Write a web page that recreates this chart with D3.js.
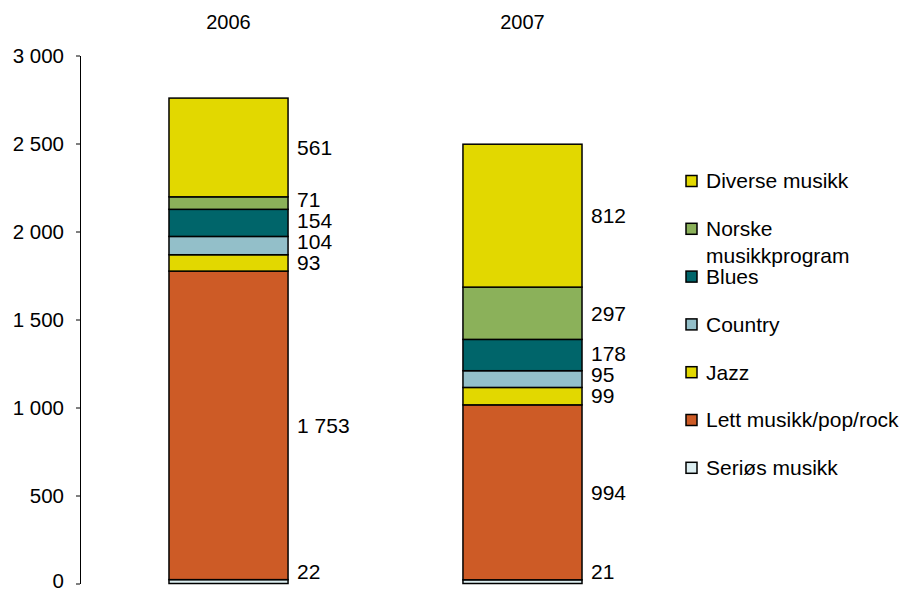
<!DOCTYPE html>
<html>
<head>
<meta charset="utf-8">
<script src="https://cdn.jsdelivr.net/npm/d3@7/dist/d3.min.js"></script>
<style>
  body { margin: 0; background: #fff; }
  svg { display: block; font-family: "Liberation Sans", Arial, sans-serif; }
</style>
</head>
<body>
<svg id="chart" width="906" height="590"></svg>
<script>
// ---- data ----
const categories = ["2006", "2007"];
const seriesNames = ["Seriøs musikk", "Lett musikk/pop/rock", "Jazz", "Country", "Blues", "Norske musikkprogram", "Diverse musikk"];
const seriosMusikk = [22, 21];
const lettMusikk = [1753, 994];
const jazz = [93, 99];
const country = [104, 95];
const blues = [154, 178];
const norskeMusikkprogram = [71, 297];
const diverseMusikk = [561, 812];
const yTicks = [0, 500, 1000, 1500, 2000, 2500, 3000];
const colors = ["#DCEEF1", "#CD5B26", "#E2D800", "#93BFC9", "#00656A", "#8BB15A", "#E2D800"];

const seriesValues = [seriosMusikk, lettMusikk, jazz, country, blues, norskeMusikkprogram, diverseMusikk];

// table for stacking
const table = categories.map((c, i) => {
  const row = { cat: c };
  seriesNames.forEach((s, j) => row[s] = seriesValues[j][i]);
  return row;
});

const svg = d3.select("#chart");
const fmt = v => d3.format(",")(v).replace(/,/g, " ");

const y = d3.scaleLinear().domain([0, 3000]).range([583.5, 55.5]);
const x = d3.scaleBand().domain(categories).range([81.5, 669.5]).paddingInner(0.595).paddingOuter(0.2976);

// axis
const yAxis = d3.axisLeft(y).tickValues(yTicks).tickSize(4).tickSizeOuter(0).tickPadding(12).tickFormat(fmt);
const gy = svg.append("g").attr("transform", "translate(80,0)").call(yAxis);
gy.select(".domain").attr("stroke", "#000").attr("stroke-width", 1);
gy.selectAll(".tick line").attr("stroke", "#000");
gy.selectAll(".tick text").attr("font-size", 20.5).attr("fill", "#000").attr("font-family", "Liberation Sans, Arial, sans-serif")
  .attr("y", d => d === 0 ? -3 : 0);

// stacks
const stack = d3.stack().keys(seriesNames);
const stacked = stack(table);

const layers = svg.append("g").selectAll("g").data(stacked).join("g")
  .attr("fill", (d, i) => colors[i]);
layers.selectAll("rect").data(d => d).join("rect")
  .attr("x", d => x(d.data.cat))
  .attr("width", x.bandwidth())
  .attr("y", d => y(d[1]))
  .attr("height", d => y(d[0]) - y(d[1]))
  .attr("stroke", "#000")
  .attr("stroke-width", 1.5);

// value labels with simple de-overlap
categories.forEach((c, ci) => {
  const labels = stacked.map((layer, li) => {
    const d = layer[ci];
    return { v: d[1] - d[0], yc: (y(d[0]) + y(d[1])) / 2 };
  });
  labels[0].yc = Math.min(labels[0].yc, 572);
  for (let i = 1; i < labels.length; i++) {
    if (labels[i - 1].yc - labels[i].yc < 21) labels[i].yc = labels[i - 1].yc - 21;
  }
  svg.append("g").selectAll("text").data(labels).join("text")
    .attr("x", x(c) + x.bandwidth() + 9)
    .attr("y", d => d.yc)
    .attr("dy", "0.35em")
    .attr("font-size", 21)
    .attr("fill", "#000")
    .text(d => fmt(d.v));
});

// category labels on top
svg.append("g").selectAll("text").data(categories).join("text")
  .attr("x", d => x(d) + x.bandwidth() / 2)
  .attr("y", 29)
  .attr("text-anchor", "middle")
  .attr("font-size", 20)
  .attr("fill", "#000")
  .text(d => d);

// legend (top to bottom reversed order)
const legendOrder = seriesNames.map((s, i) => ({ name: s, color: colors[i] })).reverse();
const lg = svg.append("g");
const items = lg.selectAll("g").data(legendOrder).join("g")
  .attr("transform", (d, i) => `translate(686,${181 + i * 47.8})`);
items.append("rect")
  .attr("x", 0).attr("y", -5.5).attr("width", 11).attr("height", 11)
  .attr("fill", d => d.color).attr("stroke", "#000").attr("stroke-width", 1.5);
items.append("text")
  .attr("x", 20).attr("y", 0)
  .attr("font-size", 21).attr("fill", "#000")
  .each(function (d) {
    const t = d3.select(this);
    const parts = d.name === "Norske musikkprogram" ? ["Norske", "musikkprogram"] : [d.name];
    parts.forEach((p, k) => {
      t.append("tspan").attr("x", 20).attr("dy", k === 0 ? "0.35em" : 27).text(p);
    });
  });
</script>
</body>
</html>
